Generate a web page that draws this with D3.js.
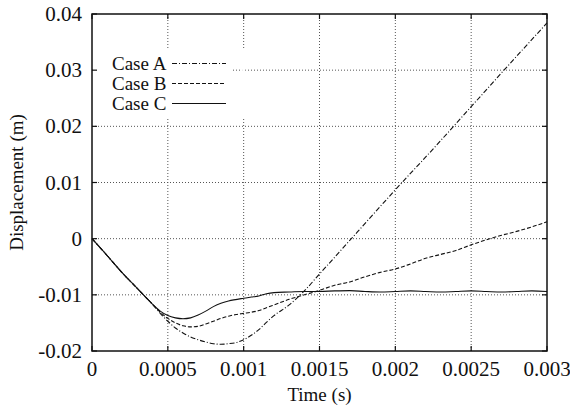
<!DOCTYPE html>
<html><head><meta charset="utf-8">
<script src="https://cdn.jsdelivr.net/npm/d3@7"></script>
<style>body{margin:0;background:#fff}svg{display:block}</style>
</head><body>
<svg id="c" width="570" height="411"></svg>
<script>
const xTicks = [0, 0.0005, 0.001, 0.0015, 0.002, 0.0025, 0.003];
const xTickLabels = ["0", "0.0005", "0.001", "0.0015", "0.002", "0.0025", "0.003"];
const yTicks = [-0.02, -0.01, 0, 0.01, 0.02, 0.03, 0.04];
const yTickLabels = ["-0.02", "-0.01", "0", "0.01", "0.02", "0.03", "0.04"];
const seriesNames = ["Case A", "Case B", "Case C"];

const tA = [0, 0.0001, 0.0002, 0.0003, 0.00035, 0.0004, 0.00045, 0.0005, 0.00055, 0.0006, 0.00065, 0.0007, 0.00075, 0.0008, 0.00085, 0.0009, 0.00095, 0.001, 0.00105, 0.0011, 0.00115, 0.0012, 0.0013, 0.0014, 0.0015, 0.00175, 0.002, 0.00225, 0.0025, 0.00275, 0.003];
const caseA = [0, -0.003, -0.0061, -0.0089, -0.0103, -0.0117, -0.0133, -0.0147, -0.0159, -0.0168, -0.0175, -0.0180, -0.0184, -0.0187, -0.0188, -0.0187, -0.0185, -0.0180, -0.0172, -0.0162, -0.0149, -0.0137, -0.0118, -0.0093, -0.0063, 0.0012, 0.0087, 0.0160, 0.0235, 0.0310, 0.0384];

const tB = [0, 0.0001, 0.0002, 0.0003, 0.00035, 0.0004, 0.00045, 0.0005, 0.00055, 0.0006, 0.00065, 0.0007, 0.00075, 0.0008, 0.00085, 0.0009, 0.00095, 0.001, 0.00105, 0.0011, 0.00115, 0.0012, 0.0013, 0.0014, 0.0015, 0.0016, 0.0017, 0.0018, 0.0019, 0.002, 0.0021, 0.0022, 0.0023, 0.0024, 0.0025, 0.0026, 0.0027, 0.0028, 0.0029, 0.003];
const caseB = [0, -0.003, -0.0061, -0.0089, -0.0103, -0.0117, -0.0131, -0.0142, -0.0150, -0.0155, -0.0157, -0.0156, -0.0152, -0.0147, -0.0142, -0.0138, -0.0135, -0.0133, -0.0131, -0.0128, -0.0123, -0.0118, -0.0108, -0.0100, -0.0092, -0.0083, -0.0077, -0.0068, -0.0060, -0.0054, -0.0045, -0.0035, -0.0028, -0.0021, -0.0011, -0.0002, 0.0006, 0.0013, 0.0021, 0.0030];

const tC = [0, 0.0001, 0.0002, 0.0003, 0.00035, 0.0004, 0.00045, 0.0005, 0.00055, 0.0006, 0.00065, 0.0007, 0.00075, 0.0008, 0.00085, 0.0009, 0.001, 0.00105, 0.0011, 0.00115, 0.0012, 0.0013, 0.0014, 0.0015, 0.0016, 0.0017, 0.0018, 0.0019, 0.002, 0.0021, 0.0022, 0.0023, 0.0024, 0.0025, 0.0026, 0.0027, 0.0028, 0.0029, 0.003];
const caseC = [0, -0.003, -0.0061, -0.0089, -0.0103, -0.0117, -0.0129, -0.0137, -0.0141, -0.01425, -0.0141, -0.0136, -0.0129, -0.0121, -0.0115, -0.0111, -0.0106, -0.0104, -0.0102, -0.0098, -0.0096, -0.0095, -0.0094, -0.0094, -0.0093, -0.00925, -0.0094, -0.0095, -0.0094, -0.0093, -0.0094, -0.0095, -0.0094, -0.0093, -0.0094, -0.0095, -0.0094, -0.0093, -0.0094];

const W = 570, H = 411;
const m = {l: 92, r: 547, t: 14, b: 351};
const x = d3.scaleLinear().domain([0, 0.003]).range([m.l, m.r]);
const y = d3.scaleLinear().domain([-0.02, 0.04]).range([m.b, m.t]);
const svg = d3.select("#c");
const font = "'Liberation Serif', 'Times New Roman', serif";

// grid
const g = svg.append("g");
g.selectAll(".gx").data(xTicks.slice(1, -1)).enter().append("line")
  .attr("x1", d => x(d)).attr("x2", d => x(d)).attr("y1", m.t).attr("y2", m.b)
  .attr("stroke", "#555").attr("stroke-width", 1).attr("stroke-dasharray", "1,2");
g.selectAll(".gy").data(yTicks.slice(1, -1)).enter().append("line")
  .attr("y1", d => y(d)).attr("y2", d => y(d)).attr("x1", m.l).attr("x2", m.r)
  .attr("stroke", "#555").attr("stroke-width", 1).attr("stroke-dasharray", "1,2");

// legend background
svg.append("rect").attr("x", m.l + 1).attr("y", 50).attr("width", 139).attr("height", 68).attr("fill", "#fff");
svg.append("rect").attr("x", x(0.001) - 1.5).attr("y", 50).attr("width", 3).attr("height", 68).attr("fill", "#fff");

// curves
const styles = [
  {t: tA, v: caseA, dash: "5,2,1,2"},
  {t: tB, v: caseB, dash: "4,2"},
  {t: tC, v: caseC, dash: null}
];
const line = d3.line().x(d => x(d[0])).y(d => y(d[1])).curve(d3.curveMonotoneX);
styles.forEach(s => {
  const pts = s.t.map((t, i) => [t, s.v[i]]);
  const p = svg.append("path").datum(pts).attr("d", line)
    .attr("fill", "none").attr("stroke", "#111").attr("stroke-width", 1.1);
  if (s.dash) p.attr("stroke-dasharray", s.dash);
});

// axes
const ax = svg.append("g");
const tickLen = 5;
xTicks.forEach((d, i) => {
  ax.append("line").attr("x1", x(d)).attr("x2", x(d)).attr("y1", m.b).attr("y2", m.b - tickLen).attr("stroke", "#111").attr("stroke-width", 1.2);
  ax.append("line").attr("x1", x(d)).attr("x2", x(d)).attr("y1", m.t).attr("y2", m.t + tickLen).attr("stroke", "#111").attr("stroke-width", 1.2);
  ax.append("text").attr("x", x(d)).attr("y", 376).attr("text-anchor", "middle")
    .attr("font-family", font).attr("font-size", 21).attr("fill", "#111").text(xTickLabels[i]);
});
yTicks.forEach((d, i) => {
  ax.append("line").attr("y1", y(d)).attr("y2", y(d)).attr("x1", m.l).attr("x2", m.l + tickLen).attr("stroke", "#111").attr("stroke-width", 1.2);
  ax.append("line").attr("y1", y(d)).attr("y2", y(d)).attr("x1", m.r).attr("x2", m.r - tickLen).attr("stroke", "#111").attr("stroke-width", 1.2);
  ax.append("text").attr("x", 82).attr("y", y(d) + 7).attr("text-anchor", "end")
    .attr("font-family", font).attr("font-size", 21).attr("fill", "#111").text(yTickLabels[i]);
});
svg.append("rect").attr("x", m.l).attr("y", m.t).attr("width", m.r - m.l).attr("height", m.b - m.t)
  .attr("fill", "none").attr("stroke", "#111").attr("stroke-width", 1.5);

// axis titles
svg.append("text").attr("x", (m.l + m.r) / 2).attr("y", 401).attr("text-anchor", "middle")
  .attr("font-family", font).attr("font-size", 19).attr("fill", "#111").text("Time (s)");
svg.append("text").attr("transform", `translate(23,${(m.t + m.b) / 2}) rotate(-90)`).attr("text-anchor", "middle")
  .attr("font-family", font).attr("font-size", 19).attr("fill", "#111").text("Displacement (m)");

// legend
const ly = [63.5, 83.5, 103.5];
styles.forEach((s, i) => {
  svg.append("text").attr("x", 112).attr("y", ly[i] + 6).attr("font-family", font).attr("font-size", 19)
    .attr("fill", "#111").text(seriesNames[i]);
  const l = svg.append("line").attr("x1", 172).attr("x2", 226).attr("y1", ly[i]).attr("y2", ly[i])
    .attr("stroke", "#111").attr("stroke-width", 1.1);
  if (s.dash) l.attr("stroke-dasharray", s.dash);
});
</script>
</body></html>
